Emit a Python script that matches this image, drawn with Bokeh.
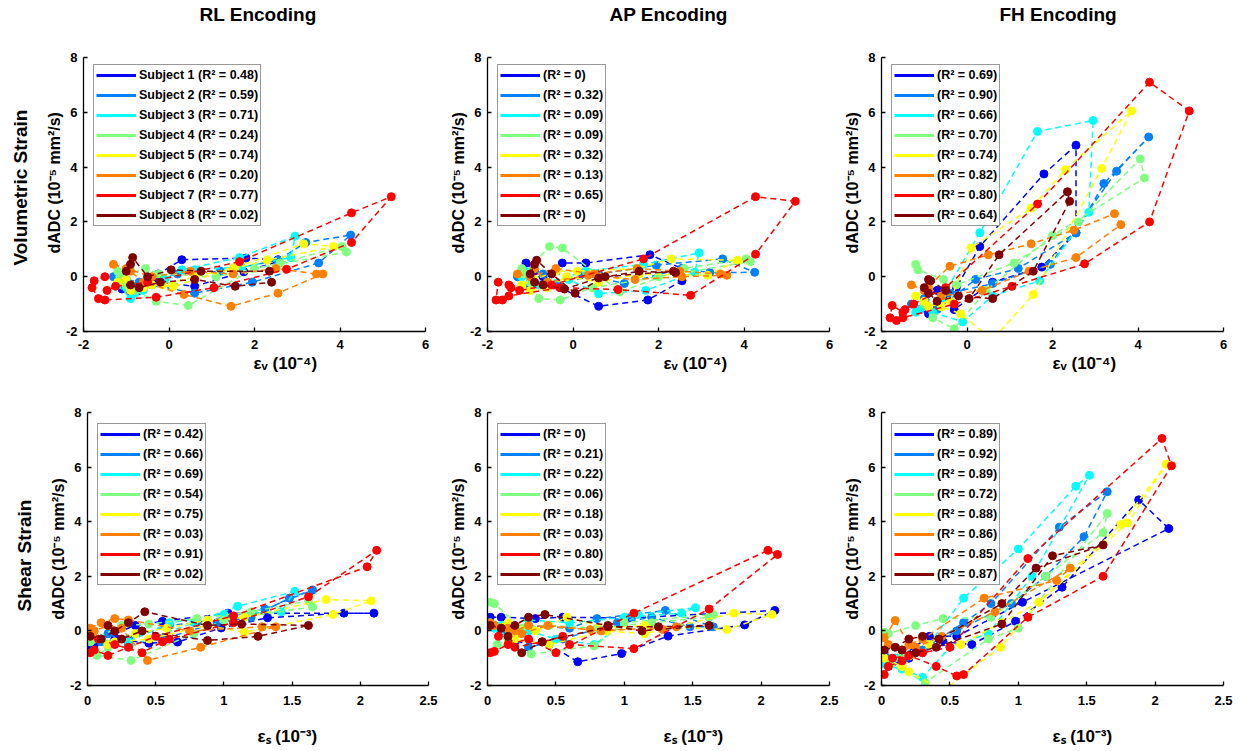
from bokeh.plotting import figure
from bokeh.models import Range1d, FixedTicker, NumeralTickFormatter, Legend, LegendItem, ColumnDataSource, Title
from bokeh.layouts import column, row
from bokeh.embed import file_html
from bokeh.resources import INLINE

# ---------------- data ----------------
colors = ["#0000FF", "#0080FF", "#00FFFF", "#80FF80", "#FFFF00", "#FF8000", "#FF0000", "#800000"]
subjects = ["Subject 1", "Subject 2", "Subject 3", "Subject 4", "Subject 5", "Subject 6", "Subject 7", "Subject 8"]
encodings = ["RL Encoding", "AP Encoding", "FH Encoding"]
strain_rows = ["Volumetric Strain", "Shear Strain"]
y_label = "dADC (10\u207b\u2075 mm\u00b2/s)"
x_labels = ["\u03b5\u1d65 (10\u207b\u2074)", "\u03b5\u209b (10\u207b\u00b3)"]
x_ticks_vol = [-2, 0, 2, 4, 6]
x_ticks_shear = [0, 0.5, 1, 1.5, 2, 2.5]
y_ticks = [-2, 0, 2, 4, 6, 8]

# R^2 values shown in legends
r2_vol_rl = ["0.48", "0.59", "0.71", "0.24", "0.74", "0.20", "0.77", "0.02"]
r2_vol_ap = ["0", "0.32", "0.09", "0.09", "0.32", "0.13", "0.65", "0"]
r2_vol_fh = ["0.69", "0.90", "0.66", "0.70", "0.74", "0.82", "0.80", "0.64"]
r2_sh_rl = ["0.42", "0.66", "0.69", "0.54", "0.75", "0.03", "0.91", "0.02"]
r2_sh_ap = ["0", "0.21", "0.22", "0.06", "0.18", "0.03", "0.80", "0.03"]
r2_sh_fh = ["0.89", "0.92", "0.89", "0.72", "0.88", "0.86", "0.85", "0.87"]

# volumetric strain (10^-4), per subject
vx1 = [-1.1, -0.9, -0.7, -0.25, 0.3, 1.8, 2.55, 2.55, 1.75, 0.6, -0.3, -0.7, -1.0]
vx2 = [-1.3, -1.0, -0.7, 0.2, 1.2, 2.55, 3.2, 4.25, 3.5, 1.95, 0.6, -0.4, -1.0]
vx3 = [-1.2, -0.9, -0.6, 0.3, 1.65, 2.95, 2.85, 1.7, 0.6, -0.1, -0.8, -1.0, -1.1]
vx4 = [-1.2, -1.15, -0.55, -0.25, 1.1, 2.6, 4.05, 4.15, 2.0, 0.45, -0.3, -0.8, -1.0]
vx5 = [-1.2, -0.9, -0.4, 0.1, 1.5, 2.3, 3.85, 3.15, 1.55, 0.6, -0.15, -0.6, -1.0]
vx6 = [-1.3, -1.0, -0.4, 0.5, 1.5, 2.5, 3.45, 3.6, 2.55, 1.45, 0.35, -0.6, -0.9]
vx7 = [-1.45, -1.25, -0.5, 1.65, 4.27, 5.2, 4.27, 2.75, 1.05, -0.3, -1.5, -1.65, -1.8, -1.75, -1.5]
vx8 = [-1.0, -0.9, -0.85, -0.5, 0.05, 0.75, 2.35, 2.4, 1.55, 0.6, -0.2, -0.7, -0.9]

# dADC vs volumetric strain, RL encoding
vr1 = [-0.45, -0.55, -0.3, 0.1, 0.62, 0.68, 0.62, 0.55, 0.18, -0.35, -0.2, -0.5, -0.3]
vr2 = [0.0, -0.3, -0.2, 0.1, 0.2, 0.6, 1.25, 1.52, 0.5, -0.2, -0.6, -0.3, -0.1]
vr3 = [-0.3, -0.8, -0.5, 0.25, 0.7, 1.48, 0.7, 0.35, 0.25, -0.1, -0.6, -0.4, -0.2]
vr4 = [0.2, 0.0, 0.3, 0.1, 0.0, 0.5, 1.1, 0.9, 0.3, -1.05, -0.9, -0.5, -0.3]
vr5 = [-0.2, -0.5, -0.3, -0.35, 0.3, 0.6, 1.1, 1.2, 0.35, 0.0, -0.3, -0.4, -0.1]
vr6 = [0.45, 0.3, 0.0, 0.2, 0.1, 0.3, 0.1, 0.1, -0.6, -1.08, -0.65, -0.2, 0.2]
vr7 = [-0.5, -0.35, -0.2, 0.55, 2.33, 2.92, 1.25, 0.27, -0.4, -0.75, -0.85, -0.8, -0.4, -0.15, 0.0]
vr8 = [0.2, 0.45, 0.7, 0.0, 0.25, 0.2, 0.2, -0.2, -0.35, -0.1, -0.2, -0.4, -0.3]

# AP encoding
va1 = [0.5, 0.2, 0.0, 0.5, 0.5, 0.8, 0.3, -0.15, -0.85, -1.08, -0.4, -0.3, 0.1]
va2 = [0.0, -0.2, 0.1, 0.1, -0.25, 0.3, 0.15, 0.16, 0.65, 0.42, 0.1, -0.3, -0.4]
va3 = [0.0, 0.3, -0.2, 0.2, 0.45, 0.87, 0.16, -0.5, -0.62, -0.1, -0.3, 0.0, 0.2]
va4 = [0.3, 0.1, 1.1, 1.05, -0.55, 0.3, 0.65, 0.55, 0.0, -0.4, -0.85, -0.8, -0.2]
va5 = [-0.3, -0.1, 0.2, 0.2, 0.3, 0.65, 0.6, 0.05, 0.1, -0.2, 0.0, -0.4, -0.5]
va6 = [0.1, 0.0, 0.3, 0.1, 0.3, 0.2, 0.1, 0.05, 0.0, -0.1, 0.05, -0.2, 0.3]
va7 = [-0.4, -0.5, -0.3, 0.65, 2.92, 2.75, 0.82, -0.68, -0.47, -0.4, -0.7, -0.85, -0.85, -0.2, -0.3]
va8 = [0.1, 0.45, 0.6, 0.1, -0.6, 0.0, 0.2, 0.15, 0.2, -0.05, -0.45, -0.3, -0.2]

# FH encoding
vf1 = [-1.2, -1.35, -1.1, -0.4, 1.1, 3.75, 4.8, 1.6, 0.35, -0.2, -1.2, -0.5, -0.9]
vf2 = [-1.0, -0.8, -1.2, -0.1, 0.3, 1.6, 3.4, 5.1, 3.85, 0.45, -0.25, -0.6, -0.9]
vf3 = [-1.3, -1.1, -0.8, 1.6, 5.3, 5.7, 2.35, -0.15, -0.7, -1.65, -1.3, -1.0, -1.2]
vf4 = [0.45, 0.25, -0.1, -0.3, 0.5, 2.0, 4.3, 3.6, 1.5, -0.5, -1.9, -1.5, -1.0]
vf5 = [-0.7, -1.1, -0.9, 1.05, 2.5, 3.9, 6.05, 3.95, -0.65, -2.3, -1.35, -1.1, -0.9]
vf6 = [-0.3, -0.5, 0.38, 0.8, 1.2, 1.7, 2.3, 1.9, 0.7, 0.2, -0.5, -0.7, -0.4]
vf7 = [-1.2, -1.0, -0.4, 2.65, 7.1, 6.05, 2.0, 0.47, -0.35, -1.0, -1.5, -1.6, -1.5, -1.05, -1.3]
vf8 = [-0.4, -0.1, -0.15, -0.5, -0.8, 0.8, 3.1, 2.75, 0.2, -0.8, -0.7, -0.9, -0.6]

# shear strain (10^-3), per subject
sx1 = [0.02, 0.1, 0.35, 0.55, 1.03, 2.1, 1.88, 1.32, 0.98, 0.66, 0.45, 0.2, 0.05]
sx2 = [0.02, 0.1, 0.3, 0.6, 0.8, 1.3, 1.65, 1.48, 1.2, 0.95, 0.55, 0.3, 0.15]
sx3 = [0.02, 0.1, 0.3, 0.6, 1.0, 1.42, 1.52, 1.1, 0.78, 0.5, 0.3, 0.15, 0.05]
sx4 = [0.02, 0.05, 0.25, 0.45, 0.8, 1.2, 1.62, 1.65, 1.0, 0.78, 0.32, 0.07, 0.15]
sx5 = [0.02, 0.15, 0.35, 0.58, 0.88, 1.15, 1.75, 2.08, 1.8, 1.15, 0.87, 0.45, 0.2]
sx6 = [0.02, 0.1, 0.2, 0.3, 0.75, 1.28, 1.38, 0.83, 0.44, 0.25, 0.15, 0.05]
sx7 = [0.02, 0.05, 0.15, 0.3, 0.5, 1.07, 2.05, 2.12, 1.62, 1.07, 0.6, 0.55, 0.4, 0.2, 0.08]
sx8 = [0.02, 0.1, 0.2, 0.3, 0.42, 0.88, 1.13, 1.62, 1.25, 0.88, 0.4, 0.25, 0.15]

# dADC vs shear strain, RL
sr1 = [-0.6, -0.3, 0.2, 0.35, 0.65, 0.65, 0.65, 0.48, 0.11, -0.41, -0.45, -0.3, -0.5]
sr2 = [-0.2, -0.4, -0.3, 0.2, 0.3, 0.8, 1.5, 1.2, 0.5, 0.3, -0.3, -0.5, -0.1]
sr3 = [-0.2, -0.3, -0.4, 0.3, 0.6, 0.7, 1.45, 0.9, 0.3, -0.2, -0.6, -0.5, -0.3]
sr4 = [-0.4, -0.3, 0.2, 0.25, 0.45, 0.7, 1.1, 0.88, 0.4, -0.1, -1.08, -0.9, -0.6]
sr5 = [-0.2, -0.5, -0.1, 0.1, 0.4, 0.5, 1.15, 1.1, 0.6, -0.05, 0.2, -0.3, -0.4]
sr6 = [0.1, 0.3, 0.45, 0.4, 0.0, 0.15, 0.15, -0.6, -1.08, 0.1, 0.2, 0.0]
sr7 = [-0.8, -0.7, -0.9, -0.6, -0.2, 0.55, 2.35, 2.95, 1.25, 0.3, -0.3, -0.4, -0.8, -0.5, -0.3]
sr8 = [-0.2, -0.3, 0.0, 0.3, 0.7, 0.2, 0.25, 0.2, -0.2, -0.35, 0.0, -0.3, 0.2]

# AP
sa1 = [0.5, 0.5, 0.45, 0.5, 0.47, 0.75, 0.22, -0.19, -0.83, -1.13, -0.5, -0.4, 0.2]
sa2 = [0.3, 0.0, 0.2, 0.1, 0.45, 0.75, 0.15, 0.15, 0.5, 0.3, -0.3, -0.6, -0.2]
sa3 = [0.3, 0.2, 0.4, 0.3, 0.5, 0.65, 0.85, 0.6, -0.5, -0.3, 0.0, -0.2, 0.1]
sa4 = [1.05, 1.0, 0.1, 0.2, 0.1, 0.3, 0.5, 0.6, 0.3, -0.55, -0.85, -0.5, -0.3]
sa5 = [0.2, 0.3, 0.0, 0.5, 0.1, 0.2, 0.05, 0.6, 0.65, -0.1, 0.0, -0.5, -0.3]
sa6 = [0.3, 0.1, 0.0, 0.2, 0.05, 0.05, 0.15, 0.0, 0.2, -0.1, 0.1, 0.2]
sa7 = [-0.8, -0.75, -0.5, -0.3, -0.8, 0.65, 2.95, 2.8, 0.8, -0.65, -0.5, -0.2, -0.4, -0.6, -0.2]
sa8 = [0.2, 0.1, 0.2, 0.5, 0.6, 0.2, 0.0, 0.2, 0.15, 0.15, -0.4, -0.8, -0.2]

# FH
sf1 = [-0.9, -1.1, -0.2, -0.2, 1.05, 3.75, 4.8, 1.6, 0.35, -0.5, -0.4, -1.0, -1.3]
sf2 = [-0.8, -1.0, -0.7, 0.3, 1.0, 3.8, 5.1, 3.45, 2.0, 1.0, 0.0, -0.8, -1.2]
sf3 = [-1.2, -1.0, -0.8, 1.2, 3.0, 5.3, 5.7, 2.0, -0.1, -0.6, -1.7, -1.4, -1.3]
sf4 = [-0.05, -0.1, 0.2, 0.45, 0.5, 2.0, 3.6, 4.3, 0.1, -0.3, -1.9, -1.2, -0.8]
sf5 = [-1.0, -1.3, -0.5, -0.5, 0.3, 1.05, 3.9, 6.1, 3.95, 1.05, -0.6, -2.2, -1.5]
sf6 = [-0.25, 0.38, -0.5, -0.3, 1.2, 1.85, 2.3, 0.7, -0.2, -0.6, -0.7, -0.5]
sf7 = [-1.6, -1.3, -1.1, -0.8, -0.6, 2.65, 7.05, 6.05, 2.0, 0.5, -1.6, -1.65, -1.3, -0.9, -1.0]
sf8 = [-0.7, -0.6, -0.3, -0.2, -0.3, 1.0, 2.3, 3.15, 2.75, 0.25, -0.6, -0.8, -0.7]

vol_x = [vx1, vx2, vx3, vx4, vx5, vx6, vx7, vx8]
shear_x = [sx1, sx2, sx3, sx4, sx5, sx6, sx7, sx8]
panel_y = [
    [[vr1, vr2, vr3, vr4, vr5, vr6, vr7, vr8],
     [va1, va2, va3, va4, va5, va6, va7, va8],
     [vf1, vf2, vf3, vf4, vf5, vf6, vf7, vf8]],
    [[sr1, sr2, sr3, sr4, sr5, sr6, sr7, sr8],
     [sa1, sa2, sa3, sa4, sa5, sa6, sa7, sa8],
     [sf1, sf2, sf3, sf4, sf5, sf6, sf7, sf8]],
]
panel_r2 = [[r2_vol_rl, r2_vol_ap, r2_vol_fh], [r2_sh_rl, r2_sh_ap, r2_sh_fh]]

# ---------------- layout / style ----------------
FONT = "Liberation Sans"
GEOM = [
    [dict(fw=342, bl=83, br=12), dict(fw=342, bl=50, br=8), dict(fw=342, bl=44, br=17)],
    [dict(fw=341, bl=87, br=11), dict(fw=342, bl=48, br=10), dict(fw=342, bl=42, br=17)],
]
ROWG = [dict(fh=274, bt=57, bb=50, leg_top=5, x_std=8, xl_gap=0,
             yl=dict(align="left", offset=78), rl=dict(align="left", offset=66)),
        dict(fh=273, bt=31, bb=66, leg_top=9, x_std=10, xl_gap=14,
             yl=dict(align="center", offset=0), rl=dict(align="left", offset=74))]
XRANGES = [(-2, 6), (0, 2.5)]
XTICKS = [x_ticks_vol, x_ticks_shear]
YR = (-2, 8)
TITLE_OFF = [116, 122, 118]
XL_OFF = [[170, 176, 171], [170, 176, 171]]
LEG_H = 164
NAN = float("nan")


def txt(text, size, align="left", offset=0, standoff=0, valign="bottom"):
    return Title(text=text, text_font=FONT, text_font_style="bold", text_font_size=size,
                 text_color="black", align=align, offset=offset, standoff=standoff,
                 vertical_align=valign)


def spacer(gap):
    # blank band that keeps a label away from its neighbour
    return Title(text=" ", text_font_size="1px", standoff=gap, text_color="white")


figs = [[], []]
for r in range(2):
    rg = ROWG[r]
    xr = XRANGES[r]
    xs_all = vol_x if r == 0 else shear_x
    for c in range(3):
        g = GEOM[r][c]
        p = figure(width=g["bl"] + g["fw"] + g["br"], height=rg["bt"] + rg["fh"] + rg["bb"],
                   x_range=Range1d(*xr), y_range=Range1d(*YR), title=None,
                   output_backend="svg", toolbar_location=None,
                   min_border_left=g["bl"], min_border_right=g["br"],
                   min_border_top=rg["bt"], min_border_bottom=rg["bb"])
        p.outline_line_color = None
        p.xgrid.visible = False
        p.ygrid.visible = False
        p.background_fill_color = "white"
        p.border_fill_color = "white"
        p.xaxis.ticker = FixedTicker(ticks=XTICKS[r])
        p.yaxis.ticker = FixedTicker(ticks=y_ticks)
        for ax in (p.xaxis[0], p.yaxis[0]):
            ax.formatter = NumeralTickFormatter(format="0.[0]")
            ax.axis_line_width = 1.3
            ax.axis_line_color = "black"
            ax.major_tick_in = 4
            ax.major_tick_out = 0
            ax.major_tick_line_width = 1.3
            ax.major_tick_line_color = "black"
            ax.minor_tick_line_color = None
            ax.major_label_text_font = FONT
            ax.major_label_text_font_style = "bold"
            ax.major_label_text_font_size = "13px"
            ax.major_label_text_color = "black"
            ax.major_label_standoff = 6
        p.xaxis[0].major_label_standoff = rg["x_std"]

        ys_all = panel_y[r][c]
        for i in range(8):
            src = ColumnDataSource(dict(x=xs_all[i], y=ys_all[i]))
            p.line("x", "y", source=src, line_color=colors[i], line_width=1.5, line_dash="6 4")
            p.scatter("x", "y", source=src, size=8, fill_color=colors[i], line_color=colors[i])

        # legend (solid line samples)
        items = []
        for i in range(8):
            dummy = p.line(x=[NAN], y=[NAN], line_color=colors[i], line_width=3)
            lab = "(R\u00b2 = %s)" % panel_r2[r][c][i]
            if r == 0 and c == 0:
                lab = subjects[i] + " " + lab
            items.append(LegendItem(label=lab, renderers=[dummy]))
        leg = Legend(items=items, location=(10, rg["fh"] - rg["leg_top"] - LEG_H),
                     label_text_font=FONT, label_text_font_style="bold",
                     label_text_font_size="12.5px", label_text_color="black",
                     glyph_width=40, glyph_height=16, label_height=16, label_standoff=3,
                     spacing=4, padding=2, margin=0,
                     border_line_color="#333333", border_line_width=1,
                     background_fill_color="white", background_fill_alpha=1.0)
        p.add_layout(leg)

        # texts around the axes
        if r == 0:
            p.add_layout(spacer(30), "above")
            p.add_layout(txt(encodings[c], "19px", offset=TITLE_OFF[c]), "above")
        p.add_layout(txt(y_label, "16px", align=rg["yl"]["align"], offset=rg["yl"]["offset"],
                         standoff=0), "left")
        if c == 0:
            p.add_layout(spacer(9), "left")
            p.add_layout(txt(strain_rows[r], "19px", align=rg["rl"]["align"], offset=rg["rl"]["offset"], standoff=1), "left")
        if rg["xl_gap"]:
            p.add_layout(spacer(rg["xl_gap"]), "below")
        p.add_layout(txt(x_labels[r], "17px", offset=XL_OFF[r][c]), "below")
        figs[r].append(p)

layout = column(row(*figs[0]), row(*figs[1]))
open("out.html", "w").write(file_html(layout, INLINE))
